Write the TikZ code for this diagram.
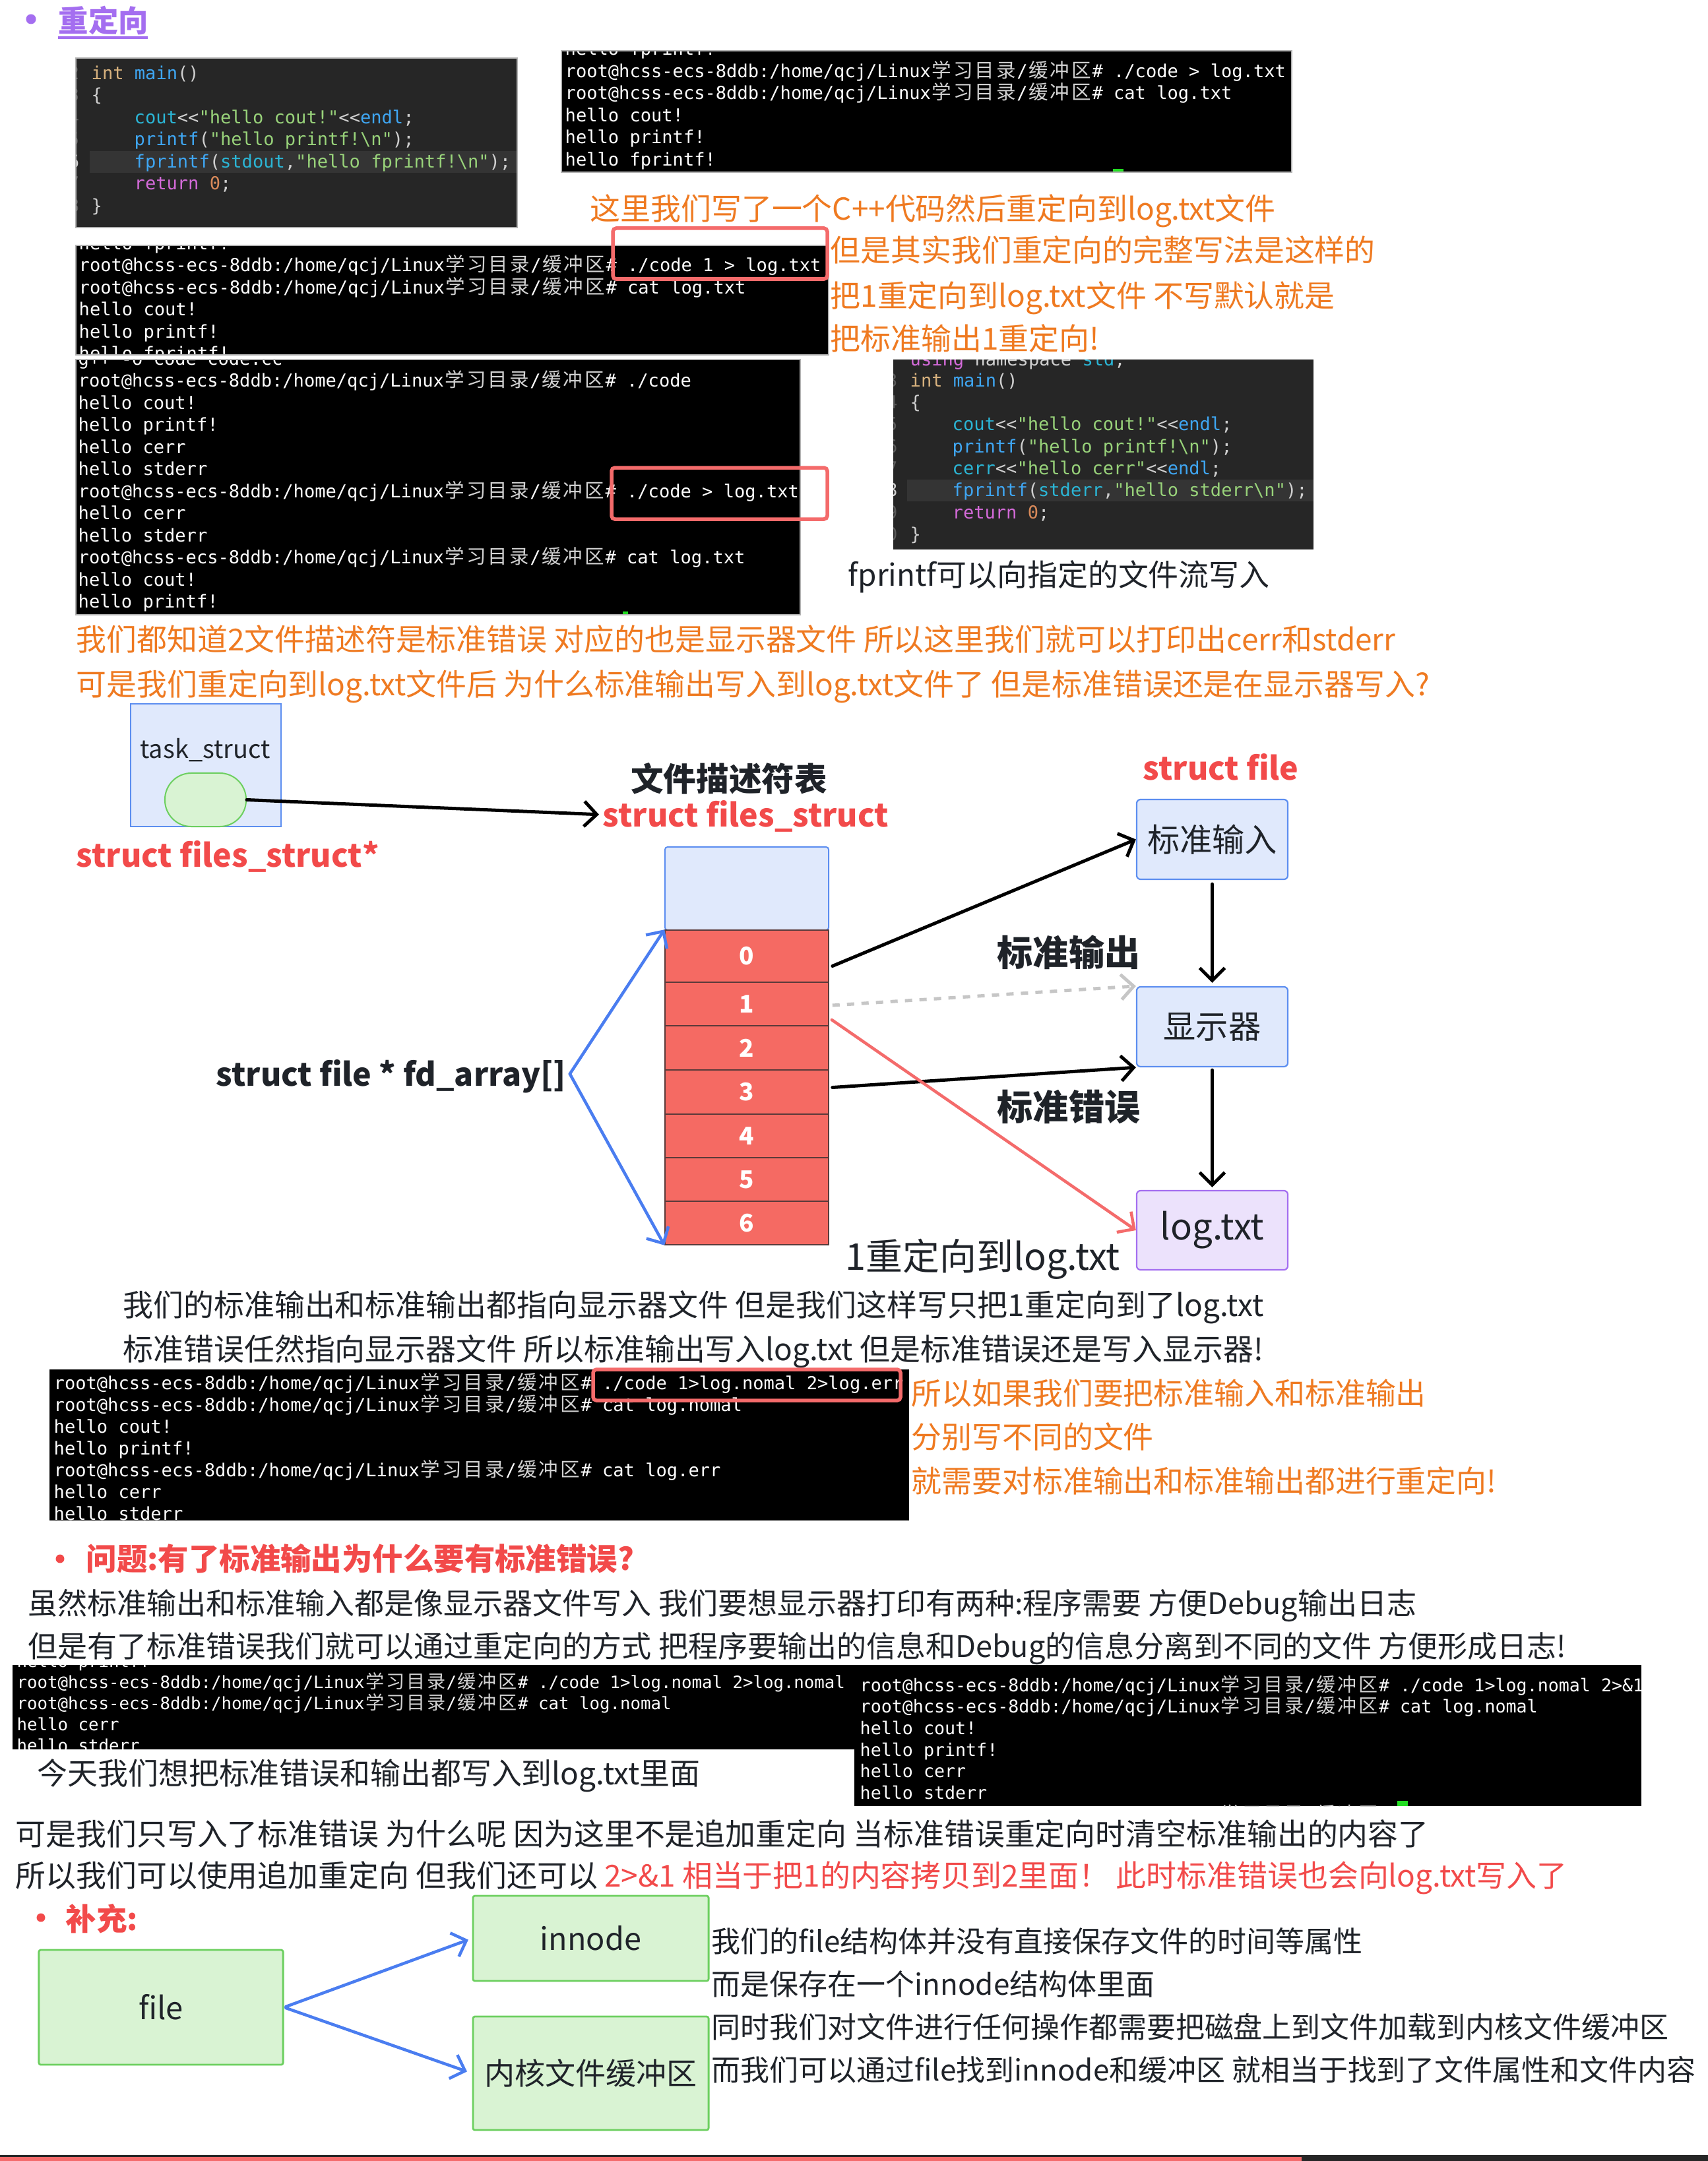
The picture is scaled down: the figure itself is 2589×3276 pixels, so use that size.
\documentclass[tikz,border=0pt]{standalone}
\usepackage{fontspec}
\setmainfont{Noto Sans CJK SC}
\newfontfamily\monof{DejaVu Sans Mono}[Ligatures=TeXOff]
\newfontfamily\cjkf{Noto Sans CJK SC}
\usetikzlibrary{arrows.meta}

\definecolor{orangeT}{HTML}{EF7A21}
\definecolor{redT}{HTML}{F24A4A}
\definecolor{purpleT}{HTML}{A46EF0}
\definecolor{inkT}{HTML}{1F2329}
\definecolor{codebg}{HTML}{262626}
\definecolor{codehl}{HTML}{343434}
\definecolor{ckw}{HTML}{D8B27E}
\definecolor{cfn}{HTML}{3FA6F2}
\definecolor{cid}{HTML}{2BB5D5}
\definecolor{cstr}{HTML}{98D27A}
\definecolor{cpu}{HTML}{CFCFCF}
\definecolor{cret}{HTML}{D36AD8}
\definecolor{cnum}{HTML}{D98A5A}
\definecolor{cgut}{HTML}{5A5A5A}
\definecolor{termcjk}{HTML}{D2D2D2}
\definecolor{hlred}{HTML}{F46B6B}
\definecolor{boxblue}{HTML}{5C8EF0}
\definecolor{fillblue}{HTML}{E0E9FC}
\definecolor{boxgreen}{HTML}{6CCF5F}
\definecolor{fillgreen}{HTML}{D9F3D3}
\definecolor{boxpurple}{HTML}{A46EF0}
\definecolor{fillpurple}{HTML}{ECE2FC}
\definecolor{cellred}{HTML}{F56A63}
\definecolor{cellline}{HTML}{5A3A3A}
\definecolor{arrblue}{HTML}{4A7DF0}
\definecolor{arrred}{HTML}{F46B6B}
\definecolor{arrgray}{HTML}{C6C6C6}
\definecolor{curgreen}{HTML}{22DD22}

\newcommand\fbody{\fontsize{13.05pt}{16pt}\selectfont}
\newcommand\fbodyn{\fontsize{12.8pt}{16pt}\selectfont}
\newcommand\fside{\fontsize{12.5pt}{15pt}\selectfont}
\newcommand\fhead{\bfseries\fontsize{12.9pt}{15pt}\selectfont}
\newcommand\fsec{\bfseries\fontsize{13.2pt}{15pt}\selectfont}
\newcommand\flabf{\bfseries\fontsize{13.7pt}{16pt}\selectfont}
\newcommand\fcjkb{\bfseries\fontsize{14.1pt}{17pt}\selectfont}
\newcommand\fcjkbb{\bfseries\fontsize{15.4pt}{18pt}\selectfont}
\newcommand\fbx{\fontsize{14pt}{17pt}\selectfont}
\newcommand\ftask{\fontsize{10.8pt}{13pt}\selectfont}
\newcommand\fnum{\bfseries\fontsize{10.5pt}{12pt}\selectfont}
\newcommand\fmono{\monof\fontsize{7.7pt}{9pt}\selectfont}
\newcommand\fmonos{\monof\fontsize{7.32pt}{9pt}\selectfont}
\newcommand\fmonom{\monof\fontsize{7.58pt}{9pt}\selectfont}
\newcommand\tcjsz{8.4pt}
\newcommand\tcj[1]{\makebox[1.204em][c]{\cjkf\fontsize{\tcjsz}{9pt}\selectfont\textcolor{termcjk}{#1}}}
\newcommand\tprompt{root@hcss-ecs-8ddb:/home/qcj/Linux\tcj{学}\tcj{习}\tcj{目}\tcj{录}/\tcj{缓}\tcj{冲}\tcj{区}\#}

\tikzset{
  xtb/.style={inner sep=0pt, anchor=west, font=\fbody, text height=11.5pt, text depth=1.6pt},
  xbody/.style={xtb, text=inkT},
  xorng/.style={xtb, text=orangeT},
  xside/.style={inner sep=0pt, anchor=west, font=\fside, text=inkT, text height=11.0pt, text depth=1.5pt},
  xterm/.style={inner sep=0pt, anchor=west, font=\fmono, text=white, text height=5.85pt, text depth=0.46pt},
  xterms/.style={xterm, font=\fmonos\def\tcjsz{8pt}, text height=5.55pt, text depth=0.44pt},
  xtermm/.style={xterm, font=\fmonom\def\tcjsz{8.25pt}, text height=5.75pt, text depth=0.45pt},
  xhl/.style={draw=hlred, line width=0.55mm, rounded corners=0.5mm},
  xbb/.style={draw=boxblue, fill=fillblue, line width=0.22mm, rounded corners=0.6mm, inner sep=0pt, font=\fbx, text=inkT},
  xpb/.style={xbb, draw=boxpurple, fill=fillpurple},
  xgb/.style={draw=boxgreen, fill=fillgreen, line width=0.28mm, rounded corners=0.3mm, inner sep=0pt, text=inkT},
  xcell/.style={draw=cellline, fill=cellred, line width=0.15mm, minimum width=2.48cm, inner sep=0pt, text=white, font=\fnum},
  xlab/.style={inner sep=0pt, anchor=west, font=\flabf, text height=12.1pt, text depth=1.6pt},
  xarr/.style={draw=black, line width=0.5mm, line cap=round, -{Straight Barb[length=1.9mm,width=3.8mm]}},
  xbarr/.style={xarr, draw=arrblue, line width=0.45mm},
  xrarr/.style={xarr, draw=arrred, line width=0.45mm},
  xgarr/.style={xarr, draw=arrgray, dash pattern=on 1.1mm off 1.1mm, line cap=butt},
}

\begin{document}
\begin{tikzpicture}[x=0.01cm,y=-0.01cm]
\useasboundingbox (0,0) rectangle (2589,3276);
\fill[white] (0,0) rectangle (2589,3276);

% ---------- heading
\fill[purpleT] (47,29) circle[radius=0.075cm];
\node[inner sep=0pt, anchor=west, font=\fhead, text=purpleT, text height=11.4pt, text depth=1.5pt] (head) at (88,31) {重定向};
\draw[purpleT, line width=0.35mm] (88,57) -- (224,57);

% ---------- code block 1
\begin{scope}
\clip (115,88) rectangle (784,345);
\fill[codebg] (115,88) rectangle (784,345);
\fill[codehl] (136,229) rectangle (784,262);
\node[xterm, anchor=east, text=cgut] (g1a) at (121,111) {2};
\node[xterm, anchor=east, text=cgut] (g1b) at (121,144.5) {3};
\node[xterm, anchor=east, text=cgut] (g1c) at (121,178) {4};
\node[xterm, anchor=east, text=cgut] (g1d) at (121,211.5) {5};
\node[xterm, anchor=east, text=cpu] (g1e) at (121,245) {6};
\node[xterm, anchor=east, text=cgut] (g1f) at (121,278.5) {7};
\node[xterm, anchor=east, text=cgut] (g1g) at (121,312) {8};
\node[xterm] (k1a) at (138,111) {\textcolor{ckw}{int} \textcolor{cfn}{main}\textcolor{cpu}{()}};
\node[xterm] (k1b) at (138,144.5) {\textcolor{cpu}{\{}};
\node[xterm] (k1c) at (203,178) {\textcolor{cid}{cout}\textcolor{cpu}{<<}\textcolor{cstr}{"hello cout!"}\textcolor{cpu}{<<}\textcolor{cfn}{endl}\textcolor{cpu}{;}};
\node[xterm] (k1d) at (203,211.5) {\textcolor{cfn}{printf}\textcolor{cpu}{(}\textcolor{cstr}{"hello printf!\textbackslash n"}\textcolor{cpu}{);}};
\node[xterm] (k1e) at (203,245) {\textcolor{cfn}{fprintf}\textcolor{cpu}{(}\textcolor{cid}{stdout}\textcolor{cpu}{,}\textcolor{cstr}{"hello fprintf!\textbackslash n"}\textcolor{cpu}{);}};
\node[xterm] (k1f) at (203,278.5) {\textcolor{cret}{return} \textcolor{cnum}{0}\textcolor{cpu}{;}};
\node[xterm] (k1g) at (138,312) {\textcolor{cpu}{\}}};
\end{scope}
\draw[gray!60, line width=0.12mm] (115,88) rectangle (784,345);

% ---------- terminal 1
\begin{scope}
\clip (851,77) rectangle (1958,261);
\fill[black] (851,77) rectangle (1958,261);
\node[xterm] (t1l0) at (856,74) {hello fprintf!};
\node[xterm] (t1l1) at (856,108) {\tprompt{} ./code > log.txt};
\node[xterm] (t1l2) at (856,141.5) {\tprompt{} cat log.txt};
\node[xterm] (t1l3) at (856,175) {hello cout!};
\node[xterm] (t1l4) at (856,208.5) {hello printf!};
\node[xterm] (t1l5) at (856,242) {hello fprintf!};
\fill[curgreen] (1687,256) rectangle (1703,261);
\end{scope}
\draw[gray!60, line width=0.12mm] (851,77) rectangle (1958,261);

\node[xorng] (o1) at (894,316) {这里我们写了一个C++代码然后重定向到log.txt文件};

% ---------- terminal 2
\begin{scope}
\clip (115,372) rectangle (1256,538);
\fill[black] (115,372) rectangle (1256,538);
\node[xterm] (t2l0) at (119,369) {hello fprintf!};
\node[xterm] (t2l1) at (119,402) {\tprompt{} ./code 1 > log.txt};
\node[xterm] (t2l2) at (119,436) {\tprompt{} cat log.txt};
\node[xterm] (t2l3) at (119,469) {hello cout!};
\node[xterm] (t2l4) at (119,503) {hello printf!};
\node[xterm] (t2l5) at (119,536) {hello fprintf!};
\end{scope}
\draw[gray!60, line width=0.12mm] (115,372) rectangle (1256,538);
\draw[xhl] (929,346) rectangle (1254,423);

\node[xorng] (o2) at (1258,379) {但是其实我们重定向的完整写法是这样的};
\node[xorng] (o3) at (1258,448) {把1重定向到log.txt文件 不写默认就是};
\node[xorng] (o4) at (1258,513) {把标准输出1重定向!};

% ---------- terminal 3
\begin{scope}
\clip (115,545) rectangle (1213,932);
\fill[black] (115,545) rectangle (1213,932);
\node[xterm] (t3l0) at (118,544) {g++ -o code code.cc};
\node[xterm] (t3l1) at (118,577.5) {\tprompt{} ./code};
\node[xterm] (t3l2) at (118,611) {hello cout!};
\node[xterm] (t3l3) at (118,644.5) {hello printf!};
\node[xterm] (t3l4) at (118,678) {hello cerr};
\node[xterm] (t3l5) at (118,711.5) {hello stderr};
\node[xterm] (t3l6) at (118,745) {\tprompt{} ./code > log.txt};
\node[xterm] (t3l7) at (118,778.5) {hello cerr};
\node[xterm] (t3l8) at (118,812) {hello stderr};
\node[xterm] (t3l9) at (118,845.5) {\tprompt{} cat log.txt};
\node[xterm] (t3l10) at (118,879) {hello cout!};
\node[xterm] (t3l11) at (118,912.5) {hello printf!};
\fill[curgreen] (944,927) rectangle (952,932);
\end{scope}
\draw[gray!60, line width=0.12mm] (115,545) rectangle (1213,932);
\draw[xhl] (927,709) rectangle (1254,787);

% ---------- code block 2
\begin{scope}
\clip (1354,545) rectangle (1991,833);
\fill[codebg] (1354,545) rectangle (1991,833);
\fill[codehl] (1375,727) rectangle (1991,760);
\node[xterm, anchor=east, text=cgut] (g2a) at (1361,577) {3};
\node[xterm, anchor=east, text=cgut] (g2b) at (1361,610) {4};
\node[xterm, anchor=east, text=cgut] (g2c) at (1361,643) {5};
\node[xterm, anchor=east, text=cgut] (g2d) at (1361,677) {6};
\node[xterm, anchor=east, text=cgut] (g2e) at (1361,710) {7};
\node[xterm, anchor=east, text=cpu] (g2f) at (1361,743) {8};
\node[xterm, anchor=east, text=cgut] (g2g) at (1361,777) {9};
\node[xterm, anchor=east, text=cgut] (g2h) at (1361,810) {0};
\node[xterm] (k2a) at (1379,545) {\textcolor{cret}{using} \textcolor{cpu}{namespace} \textcolor{cid}{std}\textcolor{cpu}{;}};
\node[xterm] (k2b) at (1379,577) {\textcolor{ckw}{int} \textcolor{cfn}{main}\textcolor{cpu}{()}};
\node[xterm] (k2c) at (1379,610) {\textcolor{cpu}{\{}};
\node[xterm] (k2d) at (1443,643) {\textcolor{cid}{cout}\textcolor{cpu}{<<}\textcolor{cstr}{"hello cout!"}\textcolor{cpu}{<<}\textcolor{cfn}{endl}\textcolor{cpu}{;}};
\node[xterm] (k2e) at (1443,677) {\textcolor{cfn}{printf}\textcolor{cpu}{(}\textcolor{cstr}{"hello printf!\textbackslash n"}\textcolor{cpu}{);}};
\node[xterm] (k2f) at (1443,710) {\textcolor{cid}{cerr}\textcolor{cpu}{<<}\textcolor{cstr}{"hello cerr"}\textcolor{cpu}{<<}\textcolor{cfn}{endl}\textcolor{cpu}{;}};
\node[xterm] (k2g) at (1443,743) {\textcolor{cfn}{fprintf}\textcolor{cpu}{(}\textcolor{cid}{stderr}\textcolor{cpu}{,}\textcolor{cstr}{"hello stderr\textbackslash n"}\textcolor{cpu}{);}};
\node[xterm] (k2h) at (1443,777) {\textcolor{cret}{return} \textcolor{cnum}{0}\textcolor{cpu}{;}};
\node[xterm] (k2i) at (1379,810) {\textcolor{cpu}{\}}};
\end{scope}

\node[xbody] (b1) at (1285,871) {fprintf可以向指定的文件流写入};
\node[xorng] (o5) at (115,969) {我们都知道2文件描述符是标准错误 对应的也是显示器文件 所以这里我们就可以打印出cerr和stderr};
\node[xorng] (o6) at (115,1037) {可是我们重定向到log.txt文件后 为什么标准输出写入到log.txt文件了 但是标准错误还是在显示器写入?};

% ---------- diagram: task_struct / files_struct
\node[draw=boxblue, fill=fillblue, line width=0.2mm, minimum width=2.28cm, minimum height=1.86cm, inner sep=0pt] (task) at (312,1160) {};
\node[inner sep=0pt, font=\ftask, text=inkT] (tasklbl) at (311,1137) {task\_struct};
\node[draw=boxgreen, fill=fillgreen, line width=0.2mm, minimum width=1.23cm, minimum height=0.81cm, rounded corners=0.4cm, inner sep=0pt] (pill) at (311.5,1212.5) {};
\node[xlab, text=redT] (fsp) at (115,1296) {struct files\_struct*};
\node[inner sep=0pt, font=\fcjkb, text=inkT, text height=12.4pt, text depth=1.7pt] (fdtitle) at (1105,1181) {文件描述符表};
\node[xlab, text=redT] (fsl) at (913,1235) {struct files\_struct};
\draw[xarr, shorten >=0.5mm] (pill.east) -- (fsl.west);

% fd table
\node[draw=boxblue, fill=fillblue, line width=0.2mm, rounded corners=0.4mm, minimum width=2.48cm, minimum height=1.26cm, inner sep=0pt] (fdtop) at (1132,1347) {};
\node[xcell, minimum height=0.79cm] (c0) at (1132,1449.5) {0};
\node[xcell, minimum height=0.66cm] (c1) at (1132,1522) {1};
\node[xcell, minimum height=0.67cm] (c2) at (1132,1588.5) {2};
\node[xcell, minimum height=0.67cm] (c3) at (1132,1655.5) {3};
\node[xcell, minimum height=0.66cm] (c4) at (1132,1722) {4};
\node[xcell, minimum height=0.66cm] (c5) at (1132,1788) {5};
\node[xcell, minimum height=0.66cm] (c6) at (1132,1854) {6};

\node[xlab, text=inkT] (fda) at (327,1628) {struct file * fd\_array[]};
\draw[xbarr] ([xshift=0.5mm]fda.east) -- (c0.north west);
\draw[xbarr] ([xshift=0.5mm]fda.east) -- (c6.south west);

% struct file boxes
\node[xlab, text=redT] (sfile) at (1732,1164) {struct file};
\node[xbb, minimum width=2.29cm, minimum height=1.21cm] (stdin) at (1837.5,1272.5) {标准输入};
\node[xbb, minimum width=2.29cm, minimum height=1.21cm] (disp) at (1837.5,1556.5) {显示器};
\node[xpb, minimum width=2.29cm, minimum height=1.20cm, font=\fontsize{15.5pt}{18pt}\selectfont] (logf) at (1837.5,1865) {log.txt};

\node[inner sep=0pt, anchor=west, font=\fcjkbb, text=inkT, text height=13.6pt, text depth=1.8pt] (lout) at (1511,1444) {标准输出};
\node[inner sep=0pt, anchor=west, font=\fcjkbb, text=inkT, text height=13.6pt, text depth=1.8pt] (lerr) at (1511,1678) {标准错误};
\node[inner sep=0pt, anchor=west, font=\fontsize{15.9pt}{18pt}\selectfont, text=inkT, text height=14.0pt, text depth=1.9pt] (lred) at (1281,1904) {1重定向到log.txt};

\draw[xarr] ([shift={(5,15)}]c0.east) -- (stdin.west);
\draw[xgarr] ([shift={(5,2)}]c1.east) -- (disp.north west);
\draw[xarr] ([shift={(5,-7)}]c3.east) -- (disp.south west);
\draw[xrarr] ([shift={(4,24)}]c1.east) -- (logf.west);
\draw[xarr, shorten <=0.6mm, shorten >=0.5mm] (stdin.south) -- (disp.north);
\draw[xarr, shorten <=0.4mm, shorten >=0.4mm] (disp.south) -- (logf.north);

% ---------- after diagram
\node[xbody] (b2) at (186,1978) {我们的标准输出和标准输出都指向显示器文件 但是我们这样写只把1重定向到了log.txt};
\node[xbody] (b3) at (186,2045) {标准错误任然指向显示器文件 所以标准输出写入log.txt 但是标准错误还是写入显示器!};

% ---------- terminal 4
\begin{scope}
\clip (75,2076) rectangle (1378,2305);
\fill[black] (75,2076) rectangle (1378,2305);
\node[xterm] (t4l1) at (81,2097) {\tprompt{} ./code 1>log.nomal 2>log.err};
\node[xterm] (t4l2) at (81,2130) {\tprompt{} cat log.nomal};
\node[xterm] (t4l3) at (81,2163) {hello cout!};
\node[xterm] (t4l4) at (81,2196) {hello printf!};
\node[xterm] (t4l5) at (81,2229) {\tprompt{} cat log.err};
\node[xterm] (t4l6) at (81,2262) {hello cerr};
\node[xterm] (t4l7) at (81,2295) {hello stderr};
\end{scope}
\draw[xhl] (899,2076) rectangle (1365,2123);

\node[xorng] (o7) at (1381,2112) {所以如果我们要把标准输入和标准输出};
\node[xorng] (o8) at (1381,2178) {分别写不同的文件};
\node[xorng] (o9) at (1381,2245) {就需要对标准输出和标准输出都进行重定向!};

% ---------- question
\fill[redT] (91,2363) circle[radius=0.065cm];
\node[inner sep=0pt, anchor=west, font=\fsec, text=redT, text height=11.6pt, text depth=1.6pt] (q1) at (130,2363) {问题:有了标准输出为什么要有标准错误?};
\node[xbody, font=\fbodyn] (b4) at (42,2430) {虽然标准输出和标准输入都是像显示器文件写入 我们要想显示器打印有两种:程序需要 方便Debug输出日志};
\node[xbody, font=\fbodyn] (b5) at (42,2495) {但是有了标准错误我们就可以通过重定向的方式 把程序要输出的信息和Debug的信息分离到不同的文件 方便形成日志!};

% ---------- terminal 5
\begin{scope}
\clip (19,2524) rectangle (1295,2652);
\fill[black] (19,2524) rectangle (1295,2652);
\node[xterms] (t5l0) at (25,2518) {hello printf!};
\node[xterms] (t5l1) at (25,2550) {\tprompt{} ./code 1>log.nomal 2>log.nomal};
\node[xterms] (t5l2) at (25,2582) {\tprompt{} cat log.nomal};
\node[xterms] (t5l3) at (25,2614) {hello cerr};
\node[xterms] (t5l4) at (25,2646) {hello stderr};
\end{scope}

% ---------- terminal 6
\begin{scope}
\clip (1295,2524) rectangle (2488,2738);
\fill[black] (1295,2524) rectangle (2488,2738);
\node[xtermm] (t6l1) at (1303,2555) {\tprompt{} ./code 1>log.nomal 2>\&1};
\node[xtermm] (t6l2) at (1303,2587) {\tprompt{} cat log.nomal};
\node[xtermm] (t6l3) at (1303,2620) {hello cout!};
\node[xtermm] (t6l4) at (1303,2653) {hello printf!};
\node[xtermm] (t6l5) at (1303,2685) {hello cerr};
\node[xtermm] (t6l6) at (1303,2718) {hello stderr};
\node[xtermm] (t6l7) at (1303,2751) {\tprompt{}};
\fill[curgreen] (2118,2730) rectangle (2134,2738);
\end{scope}

\node[xbody] (b6) at (56,2688) {今天我们想把标准错误和输出都写入到log.txt里面};
\node[xbody] (b7) at (23,2780) {可是我们只写入了标准错误 为什么呢 因为这里不是追加重定向 当标准错误重定向时清空标准输出的内容了};
\node[xbody] (b8) at (23,2843) {所以我们可以使用追加重定向 但我们还可以 \textcolor{redT}{2>\&1 相当于把1的内容拷贝到2里面！ 此时标准错误也会向log.txt写入了}};

% ---------- supplement
\fill[redT] (62,2907) circle[radius=0.065cm];
\node[inner sep=0pt, anchor=west, font=\fsec, text=redT, text height=11.6pt, text depth=1.6pt] (q2) at (99,2909) {补充:};

\node[xgb, minimum width=3.70cm, minimum height=1.74cm, font=\fontsize{13.4pt}{16pt}\selectfont] (file) at (244,3043) {file};
\node[xgb, minimum width=3.57cm, minimum height=1.29cm, font=\fontsize{13.3pt}{16pt}\selectfont] (inode) at (895.5,2938.5) {innode};
\node[xgb, minimum width=3.57cm, minimum height=1.72cm, font=\fontsize{13.1pt}{16pt}\selectfont] (kbuf) at (895.5,3143) {内核文件缓冲区};
\draw[xbarr, shorten <=0.3mm, shorten >=0.6mm] (file.east) -- (inode.west);
\draw[xbarr, shorten <=0.3mm, shorten >=0.8mm] (file.east) -- (kbuf.west);

\node[xside] (s1) at (1078,2943) {我们的file结构体并没有直接保存文件的时间等属性};
\node[xside] (s2) at (1078,3008) {而是保存在一个innode结构体里面};
\node[xside] (s3) at (1078,3073) {同时我们对文件进行任何操作都需要把磁盘上到文件加载到内核文件缓冲区};
\node[xside] (s4) at (1078,3138) {而我们可以通过file找到innode和缓冲区 就相当于找到了文件属性和文件内容};

% ---------- bottom bar
\fill[black!85] (0,3267) rectangle (2589,3276);
\fill[hlred] (0,3270) rectangle (1973,3276);
\end{tikzpicture}
\end{document}
